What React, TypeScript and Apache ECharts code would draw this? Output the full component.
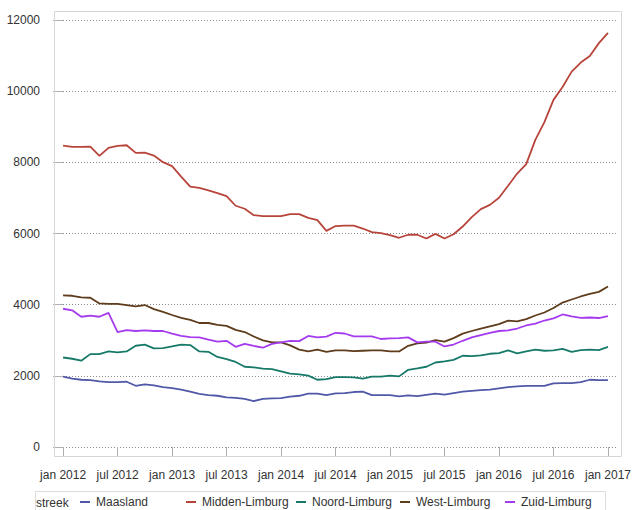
import React, { useEffect, useRef } from "react";
import * as echarts from "echarts";

const seriesNames = ["Maasland", "Midden-Limburg", "Noord-Limburg", "West-Limburg", "Zuid-Limburg"];
const seriesColors = ["#5059A8", "#B8453C", "#177A68", "#5E3C1C", "#A53BEF"];

const tickPositions = [0, 6, 12, 18, 24, 30, 36, 42, 48, 54, 60];
const tickLabels = [
  "jan 2012", "jul 2012", "jan 2013", "jul 2013", "jan 2014", "jul 2014",
  "jan 2015", "jul 2015", "jan 2016", "jul 2016", "jan 2017",
];

const maasland = [
  1975, 1920, 1890, 1880, 1845, 1825, 1825, 1835, 1720, 1760, 1730, 1685, 1655, 1610, 1555, 1490,
  1460, 1440, 1395, 1380, 1350, 1290, 1355, 1365, 1375, 1415, 1440, 1500, 1500, 1460, 1505, 1515,
  1545, 1555, 1460, 1460, 1460, 1425, 1450, 1430, 1465, 1500, 1470, 1515, 1555, 1580, 1600, 1610,
  1650, 1685, 1705, 1715, 1720, 1720, 1790, 1795, 1795, 1825, 1890, 1880, 1880,
];
const midden = [
  8470, 8435, 8435, 8440, 8180, 8405, 8460, 8480, 8265, 8275, 8190, 8005, 7895, 7600, 7320, 7285,
  7210, 7135, 7050, 6780, 6695, 6515, 6490, 6490, 6490, 6545, 6545, 6440, 6375, 6075, 6210, 6220,
  6220, 6140, 6040, 6010, 5955, 5880, 5965, 5965, 5860, 5990, 5860, 5980, 6195, 6460, 6685, 6805,
  7005, 7340, 7685, 7950, 8630, 9130, 9755, 10115, 10550, 10805, 10990, 11350, 11640,
];
const noord = [
  2515, 2480, 2425, 2610, 2610, 2685, 2660, 2685, 2845, 2875, 2770, 2780, 2825, 2875, 2865, 2685,
  2675, 2530, 2470, 2390, 2255, 2240, 2200, 2190, 2125, 2060, 2040, 2005, 1890, 1910, 1965, 1965,
  1955, 1920, 1975, 1975, 2005, 1985, 2170, 2210, 2255, 2375, 2405, 2450, 2565, 2555, 2575, 2620,
  2640, 2715, 2630, 2685, 2735, 2705, 2715, 2760, 2675, 2725, 2735, 2725, 2815,
];
const west = [
  4260, 4250, 4205, 4195, 4035, 4025, 4025, 3990, 3950, 3990, 3875, 3800, 3710, 3630, 3575, 3485,
  3485, 3435, 3405, 3290, 3230, 3105, 2995, 2940, 2940, 2855, 2735, 2685, 2735, 2675, 2715, 2715,
  2695, 2705, 2715, 2715, 2685, 2685, 2845, 2910, 2935, 3005, 2960, 3060, 3185, 3260, 3325, 3390,
  3455, 3550, 3530, 3595, 3695, 3780, 3905, 4060, 4145, 4230, 4305, 4360, 4510,
];
const zuid = [
  3885, 3840, 3660, 3695, 3660, 3770, 3230, 3285, 3260, 3275, 3260, 3260, 3185, 3125, 3090, 3080,
  3015, 2960, 2985, 2815, 2900, 2840, 2790, 2900, 2940, 2985, 2975, 3120, 3080, 3100, 3210, 3190,
  3110, 3110, 3110, 3035, 3050, 3060, 3080, 2940, 2960, 2960, 2825, 2880, 2985, 3080, 3145, 3210,
  3260, 3275, 3330, 3415, 3465, 3555, 3615, 3725, 3670, 3630, 3640, 3625, 3680,
];

const allValues = [maasland, midden, noord, west, zuid];

const FONT = "'Liberation Sans', Arial, sans-serif";
const legendLefts = [80, 186, 296, 400, 505];

export default function App() {
  const ref = useRef<HTMLDivElement>(null);

  useEffect(() => {
    if (!ref.current) return;
    const chart = echarts.init(ref.current, null, { renderer: "svg" });
    const series = allValues.map((vals, si) => ({
      name: seriesNames[si],
      type: "line",
      data: vals.map((v, i) => [i, v]),
      showSymbol: false,
      symbol: "none",
      lineStyle: { width: 1.8, color: seriesColors[si] },
      itemStyle: { color: seriesColors[si] },
      emphasis: { disabled: true },
    }));
    const legends = seriesNames.map((name, i) => ({
      show: true,
      left: legendLefts[i],
      top: 496,
      orient: "horizontal",
      icon: "rect",
      itemWidth: 10,
      itemHeight: 2,
      padding: 0,
      data: [name],
      selectedMode: false,
      textStyle: { fontSize: 12, color: "#333", fontFamily: FONT, padding: [0, 0, 0, 1] },
    }));
    chart.setOption({
      animation: false,
      backgroundColor: "#ffffff",
      textStyle: { fontFamily: FONT },
      grid: { left: 54, right: 13, top: 20, bottom: 63, containLabel: false },
      xAxis: {
        type: "value",
        min: -1,
        max: 61,
        offset: 9,
        axisLine: { show: false },
        axisTick: {
          show: true,
          length: 9,
          customValues: tickPositions,
          lineStyle: { color: "#b0b0b0" },
        },
        axisLabel: {
          customValues: tickPositions,
          margin: 13,
          fontSize: 12,
          color: "#333",
          fontFamily: FONT,
          formatter: (v: number) => tickLabels[tickPositions.indexOf(Math.round(v))] ?? "",
        },
        splitLine: { show: false },
      },
      yAxis: {
        type: "value",
        min: 0,
        max: 12000,
        interval: 2000,
        axisLine: { show: false },
        axisTick: { show: true, length: 10, lineStyle: { color: "#b0b0b0" } },
        axisLabel: {
          margin: 14,
          fontSize: 12,
          color: "#333",
          fontFamily: FONT,
          formatter: (v: number) => String(v),
        },
        splitLine: { show: true, lineStyle: { color: "#8a8a8a", type: [1, 2], width: 1 } },
      },
      legend: legends,
      graphic: [
        {
          type: "rect",
          shape: { x: 54.5, y: 11.5, width: 567, height: 445 },
          style: { fill: "none", stroke: "#d6d6d6", lineWidth: 1 },
          silent: true,
          z: 100,
        },
        {
          type: "rect",
          shape: { x: 35.5, y: 491.5, width: 570, height: 40 },
          style: { fill: "none", stroke: "#dcdcdc", lineWidth: 1 },
          silent: true,
        },
        {
          type: "text",
          x: 36,
          y: 497,
          style: {
            text: "streek",
            fontSize: 12,
            fill: "#333",
            fontFamily: FONT,
          },
          silent: true,
        },
      ],
      series,
    });
    return () => chart.dispose();
  }, []);

  return (
    <div
      ref={ref}
      style={{ position: "fixed", left: 0, top: 0, width: 634, height: 510, background: "#fff" }}
    />
  );
}
